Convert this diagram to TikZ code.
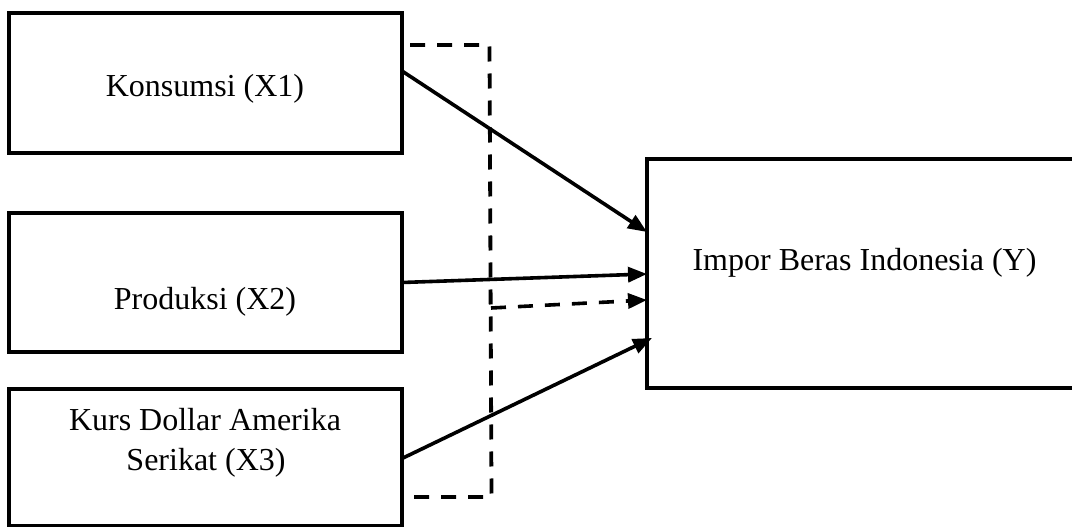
\documentclass[tikz,border=0pt]{standalone}
\usepackage{fontspec}
\setmainfont{Liberation Serif}
\usetikzlibrary{arrows.meta,calc}
\begin{document}
\begin{tikzpicture}[x=1pt,y=-1pt,
  box/.style={draw=black,line width=3.8pt,inner sep=0pt,outer sep=0pt,fill=none},
  txt/.style={font=\fontsize{32}{40}\selectfont,inner sep=0pt,anchor=base},
  arr/.style={line width=3.6pt,-{Triangle[length=19pt,width=15pt]}},
  dsh/.style={line width=3.8pt,dash pattern=on 15pt off 12pt}]
\useasboundingbox (0,0) rectangle (1072,527);
\clip (0,0) rectangle (1072,527);
% boxes
\node[box,minimum width=393pt,minimum height=140pt] (k) at (205.5,83) {};
\node[box,minimum width=393pt,minimum height=139pt] (p) at (205.5,282.5) {};
\node[box,minimum width=393pt,minimum height=137pt] (r) at (205.5,457.5) {};
\node[box,minimum width=433pt,minimum height=229pt] (y) at (863.5,273.5) {};
% texts
\node[txt] (kt) at (205,97) {Konsumsi (X1)};
\node[txt] (pt) at (205,309) {Produksi (X2)};
\node[txt] (rt1) at (205,430) {Kurs Dollar Amerika};
\node[txt] (rt2) at (206,470) {Serikat (X3)};
\node[txt] (yt) at (864.5,270) {Impor Beras Indonesia (Y)};
% dashed bracket
\coordinate (d1) at (410,45);
\coordinate (d2) at (489.5,45);
\coordinate (d3) at (491.5,497);
\coordinate (d4) at (412,497);
\coordinate (dm) at (491,308);
\draw[dsh] (d1) -- (d2) -- (d3) -- (d4);
% arrows
\draw[arr] ($(k.north east)+(0,58)$) -- ($(y.north west)+(0,73)$);
\draw[arr] ($(p.north east)+(0,69.5)$) -- ($(y.north west)+(0,115)$);
\draw[arr] ($(r.north east)+(0,69.5)$) -- ($(y.north west)+(5,179)$);
\draw[arr,dash pattern=on 15pt off 12pt] (dm) -- ($(y.north west)+(0,141)$);
\end{tikzpicture}
\end{document}
